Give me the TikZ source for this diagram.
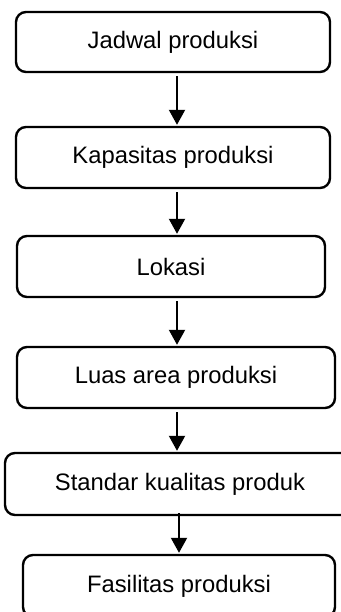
\documentclass[tikz,border=0pt]{standalone}
\usepackage{fontspec}
\setmainfont{Liberation Sans}
\usetikzlibrary{arrows.meta}
\tikzset{kotak/.style={draw,line width=2.4pt,rounded corners=10pt,minimum height=61pt,inner sep=0pt,font=\fontsize{23.8}{28}\selectfont},
panah/.style={line width=2pt,-{Triangle[width=16pt,length=15pt]},shorten <=3pt,shorten >=1pt}}
\begin{document}
\begin{tikzpicture}[x=1pt,y=-1pt]
\useasboundingbox (0,0) rectangle (340,612);
\node[kotak,minimum width=314pt,minimum height=60pt] (jadwal) at (173,42) {Jadwal produksi};
\node[kotak,minimum width=314pt] (kapasitas) at (173,157.5) {Kapasitas produksi};
\node[kotak,minimum width=308pt] (lokasi) at (171,266.5) {Lokasi};
\node[kotak,minimum width=318pt] (luas) at (176,377.5) {Luas area produksi};
\node[kotak,minimum width=350pt,minimum height=62pt] (standar) at (180,484) {Standar kualitas produk};
\node[kotak,minimum width=312pt,minimum height=62pt] (fasilitas) at (179,586) {Fasilitas produksi};
\coordinate (ax) at (177,0);
\coordinate (bx) at (179,0);
\draw[panah] (jadwal.south -| ax)--(kapasitas.north -| ax);
\draw[panah] (kapasitas.south -| ax)--(lokasi.north -| ax);
\draw[panah] (lokasi.south -| ax)--(luas.north -| ax);
\draw[panah] (luas.south -| ax)--(standar.north -| ax);
\draw[panah,shorten <=-3pt] (standar.south -| bx)--(fasilitas.north -| bx);
\end{tikzpicture}
\end{document}
